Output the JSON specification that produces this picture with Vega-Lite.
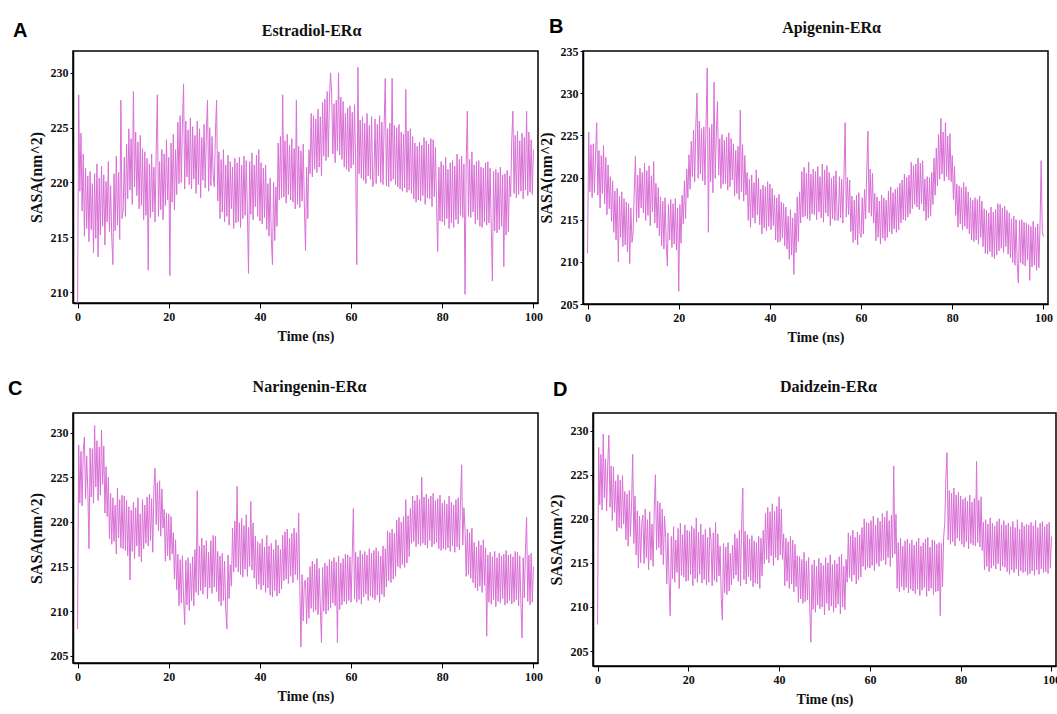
{
"$schema":"https://vega.github.io/schema/vega-lite/v6.json",
"background":"white",
"padding":{"left":7,"top":16,"right":0,"bottom":0},
"datasets":{"s":[
{"t":0,"a":208.5,"b":211.0,"c":208.0,"d":208.0},
{"t":0.25,"a":228.0,"b":225.4,"c":228.6,"d":228.1},
{"t":0.5,"a":219.2,"b":218.3,"c":222.1,"d":221.6},
{"t":0.75,"a":224.5,"b":223.9,"c":227.9,"d":227.3},
{"t":1,"a":217.4,"b":217.6,"c":221.8,"d":221.0},
{"t":1.25,"a":222.6,"b":224.0,"c":228.0,"d":229.6},
{"t":1.5,"a":215.1,"b":218.2,"c":229.5,"d":222.4},
{"t":1.75,"a":221.3,"b":222.7,"c":222.6,"d":226.8},
{"t":2,"a":215.8,"b":226.5,"c":227.4,"d":220.9},
{"t":2.25,"a":220.6,"b":217.9,"c":223.5,"d":226.2},
{"t":2.5,"a":214.6,"b":223.2,"c":217.0,"d":229.5},
{"t":2.75,"a":221.0,"b":216.4,"c":228.3,"d":221.3},
{"t":3,"a":215.7,"b":222.6,"c":222.8,"d":226.0},
{"t":3.25,"a":219.9,"b":218.1,"c":228.2,"d":219.8},
{"t":3.5,"a":213.6,"b":223.8,"c":222.1,"d":225.9},
{"t":3.75,"a":220.8,"b":216.9,"c":230.8,"d":220.7},
{"t":4,"a":214.9,"b":222.4,"c":223.9,"d":224.3},
{"t":4.25,"a":221.7,"b":215.6,"c":229.1,"d":218.6},
{"t":4.5,"a":213.2,"b":221.5,"c":222.4,"d":225.0},
{"t":4.75,"a":220.4,"b":216.3,"c":228.4,"d":219.0},
{"t":5,"a":215.2,"b":220.1,"c":223.0,"d":224.4},
{"t":5.25,"a":221.5,"b":214.8,"c":230.3,"d":218.9},
{"t":5.5,"a":216.0,"b":219.6,"c":224.2,"d":224.9},
{"t":5.75,"a":220.7,"b":213.5,"c":228.5,"d":219.4},
{"t":6,"a":214.3,"b":218.4,"c":221.0,"d":223.1},
{"t":6.25,"a":220.1,"b":212.6,"c":226.2,"d":217.6},
{"t":6.5,"a":216.4,"b":218.7,"c":220.6,"d":222.8},
{"t":6.75,"a":221.9,"b":210.0,"c":225.0,"d":216.9},
{"t":7,"a":215.5,"b":217.8,"c":218.1,"d":223.2},
{"t":7.25,"a":219.7,"b":212.9,"c":223.2,"d":218.0},
{"t":7.5,"a":215.0,"b":218.3,"c":217.5,"d":221.8},
{"t":7.75,"a":212.5,"b":211.8,"c":222.7,"d":227.3},
{"t":8,"a":220.8,"b":217.5,"c":217.8,"d":217.2},
{"t":8.25,"a":215.6,"b":212.0,"c":221.9,"d":222.6},
{"t":8.5,"a":222.4,"b":217.1,"c":216.4,"d":215.9},
{"t":8.75,"a":216.1,"b":211.2,"c":223.8,"d":220.9},
{"t":9,"a":220.9,"b":216.9,"c":218.2,"d":214.4},
{"t":9.25,"a":214.8,"b":209.8,"c":222.5,"d":220.3},
{"t":9.5,"a":227.5,"b":216.4,"c":217.1,"d":215.0},
{"t":9.75,"a":216.7,"b":212.3,"c":223.0,"d":219.6},
{"t":10,"a":217.4,"b":213.6,"c":217.0,"d":220.4},
{"t":10.25,"a":222.3,"b":218.4,"c":222.9,"d":214.9},
{"t":10.5,"a":216.9,"b":222.5,"c":216.8,"d":221.1},
{"t":10.75,"a":223.5,"b":214.7,"c":222.4,"d":215.6},
{"t":11,"a":218.5,"b":220.3,"c":216.2,"d":219.9},
{"t":11.25,"a":224.9,"b":215.2,"c":221.7,"d":214.2},
{"t":11.5,"a":219.3,"b":221.1,"c":213.5,"d":220.8},
{"t":11.75,"a":224.0,"b":216.4,"c":221.3,"d":215.3},
{"t":12,"a":218.0,"b":220.6,"c":216.7,"d":219.4},
{"t":12.25,"a":228.3,"b":215.8,"c":222.2,"d":214.6},
{"t":12.5,"a":219.6,"b":221.7,"c":215.9,"d":221.2},
{"t":12.75,"a":224.6,"b":214.9,"c":221.6,"d":225.0},
{"t":13,"a":218.8,"b":220.8,"c":217.3,"d":216.5},
{"t":13.25,"a":223.7,"b":215.5,"c":222.7,"d":222.0},
{"t":13.5,"a":217.6,"b":221.4,"c":216.1,"d":216.7},
{"t":13.75,"a":224.3,"b":214.3,"c":220.9,"d":221.8},
{"t":14,"a":217.9,"b":220.2,"c":215.5,"d":215.9},
{"t":14.25,"a":223.1,"b":215.9,"c":222.5,"d":221.1},
{"t":14.5,"a":216.6,"b":221.9,"c":217.0,"d":214.8},
{"t":14.75,"a":222.8,"b":214.6,"c":221.9,"d":220.3},
{"t":15,"a":217.0,"b":219.3,"c":217.6,"d":217.9},
{"t":15.25,"a":222.2,"b":214.0,"c":222.8,"d":212.6},
{"t":15.5,"a":212.0,"b":218.8,"c":217.3,"d":218.4},
{"t":15.75,"a":221.7,"b":213.1,"c":223.1,"d":213.0},
{"t":16,"a":216.8,"b":217.7,"c":217.9,"d":209.0},
{"t":16.25,"a":222.6,"b":211.9,"c":222.6,"d":218.0},
{"t":16.5,"a":217.3,"b":217.2,"c":216.6,"d":213.2},
{"t":16.75,"a":221.4,"b":211.5,"c":223.8,"d":219.1},
{"t":17,"a":216.4,"b":217.6,"c":226.0,"d":212.8},
{"t":17.25,"a":222.9,"b":212.3,"c":219.7,"d":217.6},
{"t":17.5,"a":228.0,"b":209.5,"c":224.4,"d":213.9},
{"t":17.75,"a":216.9,"b":216.8,"c":219.0,"d":218.9},
{"t":18,"a":221.9,"b":212.6,"c":224.6,"d":212.1},
{"t":18.25,"a":217.5,"b":217.4,"c":218.4,"d":219.5},
{"t":18.5,"a":223.0,"b":211.7,"c":223.7,"d":213.6},
{"t":18.75,"a":216.6,"b":216.9,"c":219.3,"d":218.2},
{"t":19,"a":222.6,"b":212.1,"c":221.4,"d":213.4},
{"t":19.25,"a":217.9,"b":217.5,"c":215.6,"d":219.3},
{"t":19.5,"a":223.9,"b":211.4,"c":221.0,"d":212.9},
{"t":19.75,"a":218.4,"b":216.4,"c":216.2,"d":218.7},
{"t":20,"a":222.3,"b":206.5,"c":220.9,"d":213.0},
{"t":20.25,"a":211.5,"b":216.8,"c":215.7,"d":218.6},
{"t":20.5,"a":223.6,"b":212.2,"c":220.6,"d":213.7},
{"t":20.75,"a":218.2,"b":217.9,"c":216.4,"d":219.2},
{"t":21,"a":224.4,"b":214.5,"c":218.8,"d":212.4},
{"t":21.25,"a":217.5,"b":219.6,"c":213.6,"d":218.9},
{"t":21.5,"a":223.0,"b":215.1,"c":218.0,"d":213.2},
{"t":21.75,"a":218.9,"b":221.0,"c":212.4,"d":220.1},
{"t":22,"a":225.5,"b":217.6,"c":216.4,"d":212.8},
{"t":22.25,"a":219.9,"b":222.7,"c":210.6,"d":218.5},
{"t":22.5,"a":226.1,"b":218.6,"c":215.8,"d":213.7},
{"t":22.75,"a":220.0,"b":224.3,"c":210.9,"d":219.4},
{"t":23,"a":225.2,"b":220.1,"c":216.2,"d":212.7},
{"t":23.25,"a":229.0,"b":225.6,"c":211.6,"d":218.2},
{"t":23.5,"a":219.4,"b":219.5,"c":208.5,"d":213.1},
{"t":23.75,"a":225.6,"b":226.2,"c":215.7,"d":218.8},
{"t":24,"a":220.5,"b":230.0,"c":210.7,"d":212.5},
{"t":24.25,"a":224.8,"b":219.9,"c":216.0,"d":217.9},
{"t":24.5,"a":219.8,"b":226.7,"c":210.1,"d":212.8},
{"t":24.75,"a":225.9,"b":220.4,"c":215.4,"d":219.0},
{"t":25,"a":219.4,"b":225.8,"c":211.2,"d":217.6},
{"t":25.25,"a":225.1,"b":219.6,"c":216.1,"d":212.4},
{"t":25.5,"a":220.3,"b":226.0,"c":210.6,"d":218.4},
{"t":25.75,"a":224.3,"b":219.1,"c":216.9,"d":213.0},
{"t":26,"a":219.0,"b":226.8,"c":212.1,"d":219.6},
{"t":26.25,"a":225.6,"b":233.0,"c":223.5,"d":212.8},
{"t":26.5,"a":219.8,"b":213.5,"c":211.8,"d":218.3},
{"t":26.75,"a":224.9,"b":225.9,"c":217.3,"d":213.5},
{"t":27,"a":218.6,"b":219.5,"c":212.3,"d":216.9},
{"t":27.25,"a":224.1,"b":226.3,"c":218.2,"d":211.0},
{"t":27.5,"a":220.2,"b":218.2,"c":211.9,"d":208.5},
{"t":27.75,"a":225.3,"b":231.3,"c":217.4,"d":217.2},
{"t":28,"a":219.5,"b":219.9,"c":212.7,"d":211.6},
{"t":28.25,"a":224.6,"b":225.4,"c":217.9,"d":216.8},
{"t":28.5,"a":227.5,"b":229.0,"c":211.4,"d":211.4},
{"t":28.75,"a":219.2,"b":220.3,"c":216.6,"d":217.3},
{"t":29,"a":225.0,"b":224.6,"c":212.6,"d":211.8},
{"t":29.25,"a":219.7,"b":218.7,"c":217.9,"d":216.1},
{"t":29.5,"a":224.2,"b":225.1,"c":212.0,"d":212.5},
{"t":29.75,"a":220.6,"b":219.2,"c":218.5,"d":217.0},
{"t":30,"a":219.6,"b":224.4,"c":212.7,"d":213.2},
{"t":30.25,"a":224.7,"b":219.3,"c":218.4,"d":218.3},
{"t":30.5,"a":227.5,"b":224.8,"c":212.2,"d":213.6},
{"t":30.75,"a":218.3,"b":218.5,"c":216.7,"d":217.8},
{"t":31,"a":222.8,"b":225.3,"c":211.1,"d":212.9},
{"t":31.25,"a":216.7,"b":218.9,"c":216.2,"d":218.7},
{"t":31.5,"a":222.1,"b":224.6,"c":210.6,"d":212.4},
{"t":31.75,"a":217.3,"b":219.7,"c":216.5,"d":219.5},
{"t":32,"a":223.0,"b":224.0,"c":211.2,"d":223.5},
{"t":32.25,"a":216.4,"b":217.8,"c":215.6,"d":213.1},
{"t":32.5,"a":221.6,"b":223.2,"c":210.3,"d":218.6},
{"t":32.75,"a":216.9,"b":218.1,"c":208.0,"d":212.6},
{"t":33,"a":222.5,"b":223.7,"c":216.3,"d":218.2},
{"t":33.25,"a":216.1,"b":217.4,"c":211.4,"d":213.4},
{"t":33.5,"a":221.9,"b":228.0,"c":215.2,"d":217.7},
{"t":33.75,"a":217.6,"b":218.3,"c":212.8,"d":213.0},
{"t":34,"a":221.4,"b":223.9,"c":219.3,"d":218.1},
{"t":34.25,"a":215.8,"b":217.2,"c":214.4,"d":212.3},
{"t":34.5,"a":222.2,"b":222.6,"c":220.1,"d":217.5},
{"t":34.75,"a":216.3,"b":217.9,"c":214.9,"d":212.7},
{"t":35,"a":221.8,"b":220.6,"c":224.0,"d":217.3},
{"t":35.25,"a":216.4,"b":214.9,"c":214.4,"d":212.6},
{"t":35.5,"a":222.3,"b":219.8,"c":219.9,"d":218.0},
{"t":35.75,"a":215.9,"b":214.1,"c":214.1,"d":212.1},
{"t":36,"a":221.6,"b":220.3,"c":220.4,"d":217.8},
{"t":36.25,"a":216.7,"b":215.2,"c":213.8,"d":213.5},
{"t":36.5,"a":222.4,"b":219.4,"c":219.6,"d":218.7},
{"t":36.75,"a":217.0,"b":214.6,"c":214.7,"d":214.9},
{"t":37,"a":222.0,"b":220.9,"c":220.8,"d":220.6},
{"t":37.25,"a":217.4,"b":215.6,"c":213.9,"d":215.4},
{"t":37.5,"a":211.7,"b":219.9,"c":219.4,"d":221.3},
{"t":37.75,"a":221.9,"b":214.4,"c":215.0,"d":215.0},
{"t":38,"a":217.1,"b":218.6,"c":222.3,"d":220.8},
{"t":38.25,"a":222.7,"b":213.3,"c":214.6,"d":215.8},
{"t":38.5,"a":216.6,"b":219.1,"c":219.9,"d":221.7},
{"t":38.75,"a":221.6,"b":214.0,"c":213.7,"d":214.7},
{"t":39,"a":217.8,"b":218.9,"c":218.4,"d":220.9},
{"t":39.25,"a":222.5,"b":213.7,"c":212.5,"d":215.6},
{"t":39.5,"a":216.9,"b":219.5,"c":217.8,"d":221.4},
{"t":39.75,"a":223.0,"b":214.2,"c":213.0,"d":215.3},
{"t":40,"a":216.5,"b":219.2,"c":217.6,"d":222.5},
{"t":40.25,"a":221.8,"b":213.8,"c":212.4,"d":215.9},
{"t":40.5,"a":216.2,"b":218.7,"c":218.1,"d":221.1},
{"t":40.75,"a":221.3,"b":214.3,"c":212.9,"d":215.4},
{"t":41,"a":216.8,"b":217.9,"c":217.2,"d":218.3},
{"t":41.25,"a":221.6,"b":212.6,"c":212.1,"d":212.4},
{"t":41.5,"a":215.7,"b":217.6,"c":218.5,"d":217.8},
{"t":41.75,"a":219.9,"b":212.3,"c":212.6,"d":212.9},
{"t":42,"a":215.1,"b":218.0,"c":217.3,"d":217.4},
{"t":42.25,"a":220.4,"b":212.4,"c":211.8,"d":212.1},
{"t":42.5,"a":214.9,"b":217.1,"c":217.6,"d":218.0},
{"t":42.75,"a":212.5,"b":212.8,"c":211.6,"d":212.6},
{"t":43,"a":220.0,"b":216.9,"c":216.9,"d":217.6},
{"t":43.25,"a":214.7,"b":211.9,"c":212.3,"d":211.7},
{"t":43.5,"a":219.6,"b":216.5,"c":218.0,"d":217.1},
{"t":43.75,"a":216.0,"b":211.5,"c":211.7,"d":212.3},
{"t":44,"a":223.6,"b":215.4,"c":217.4,"d":215.8},
{"t":44.25,"a":218.4,"b":210.3,"c":212.0,"d":210.5},
{"t":44.5,"a":224.2,"b":216.2,"c":216.9,"d":215.7},
{"t":44.75,"a":218.6,"b":210.8,"c":212.5,"d":210.9},
{"t":45,"a":228.0,"b":215.2,"c":218.5,"d":215.4},
{"t":45.25,"a":218.7,"b":208.5,"c":213.4,"d":210.4},
{"t":45.5,"a":223.8,"b":215.8,"c":218.9,"d":216.2},
{"t":45.75,"a":218.1,"b":211.1,"c":213.6,"d":210.6},
{"t":46,"a":224.4,"b":217.7,"c":219.2,"d":215.2},
{"t":46.25,"a":218.9,"b":212.4,"c":213.1,"d":210.8},
{"t":46.5,"a":223.4,"b":218.3,"c":218.2,"d":215.6},
{"t":46.75,"a":218.4,"b":214.6,"c":213.9,"d":209.9},
{"t":47,"a":224.0,"b":220.7,"c":218.7,"d":206.0},
{"t":47.25,"a":218.2,"b":215.3,"c":213.2,"d":214.8},
{"t":47.5,"a":223.1,"b":221.2,"c":219.3,"d":209.7},
{"t":47.75,"a":217.6,"b":215.4,"c":214.1,"d":215.3},
{"t":48,"a":227.5,"b":220.5,"c":218.8,"d":209.4},
{"t":48.25,"a":218.0,"b":215.1,"c":213.5,"d":214.6},
{"t":48.5,"a":223.3,"b":221.8,"c":221.0,"d":210.2},
{"t":48.75,"a":217.7,"b":214.9,"c":212.8,"d":215.5},
{"t":49,"a":222.9,"b":220.4,"c":206.0,"d":209.8},
{"t":49.25,"a":218.3,"b":215.7,"c":214.1,"d":215.0},
{"t":49.5,"a":223.5,"b":221.0,"c":208.9,"d":210.0},
{"t":49.75,"a":217.9,"b":215.6,"c":213.3,"d":214.7},
{"t":50,"a":213.8,"b":220.7,"c":213.5,"d":209.1},
{"t":50.25,"a":221.4,"b":215.0,"c":208.6,"d":215.6},
{"t":50.5,"a":216.7,"b":221.3,"c":213.8,"d":210.4},
{"t":50.75,"a":223.0,"b":215.9,"c":209.2,"d":215.0},
{"t":51,"a":220.8,"b":220.1,"c":215.0,"d":209.6},
{"t":51.25,"a":226.3,"b":215.2,"c":210.3,"d":215.9},
{"t":51.5,"a":220.5,"b":221.6,"c":215.6,"d":210.1},
{"t":51.75,"a":226.1,"b":214.7,"c":209.9,"d":214.8},
{"t":52,"a":221.2,"b":220.9,"c":215.3,"d":209.4},
{"t":52.25,"a":225.8,"b":215.8,"c":210.1,"d":215.3},
{"t":52.5,"a":220.9,"b":221.4,"c":215.9,"d":209.9},
{"t":52.75,"a":226.7,"b":215.4,"c":209.6,"d":214.9},
{"t":53,"a":221.4,"b":220.6,"c":214.8,"d":210.3},
{"t":53.25,"a":226.0,"b":214.3,"c":210.4,"d":215.7},
{"t":53.5,"a":220.6,"b":219.9,"c":206.5,"d":209.2},
{"t":53.75,"a":227.3,"b":215.1,"c":214.9,"d":216.0},
{"t":54,"a":222.4,"b":220.2,"c":210.0,"d":210.0},
{"t":54.25,"a":227.6,"b":214.9,"c":215.4,"d":214.6},
{"t":54.5,"a":222.0,"b":220.8,"c":209.7,"d":209.7},
{"t":54.75,"a":228.3,"b":215.0,"c":215.1,"d":215.4},
{"t":55,"a":222.3,"b":214.9,"c":210.1,"d":212.8},
{"t":55.25,"a":227.7,"b":220.1,"c":215.8,"d":218.4},
{"t":55.5,"a":230.0,"b":215.2,"c":210.4,"d":213.3},
{"t":55.75,"a":227.9,"b":219.8,"c":215.6,"d":218.1},
{"t":56,"a":222.6,"b":214.6,"c":210.9,"d":212.9},
{"t":56.25,"a":227.2,"b":220.3,"c":216.0,"d":218.7},
{"t":56.5,"a":221.8,"b":226.5,"c":210.6,"d":213.6},
{"t":56.75,"a":227.5,"b":215.3,"c":215.5,"d":217.9},
{"t":57,"a":222.9,"b":220.0,"c":206.5,"d":212.6},
{"t":57.25,"a":230.0,"b":215.6,"c":216.2,"d":218.5},
{"t":57.5,"a":222.5,"b":219.7,"c":210.2,"d":213.1},
{"t":57.75,"a":227.8,"b":213.6,"c":215.4,"d":218.2},
{"t":58,"a":222.1,"b":217.8,"c":210.7,"d":213.4},
{"t":58.25,"a":227.4,"b":212.3,"c":215.9,"d":219.0},
{"t":58.5,"a":221.4,"b":217.3,"c":211.1,"d":214.6},
{"t":58.75,"a":226.3,"b":212.6,"c":216.4,"d":220.0},
{"t":59,"a":221.2,"b":217.9,"c":210.8,"d":214.2},
{"t":59.25,"a":226.8,"b":212.0,"c":216.3,"d":219.6},
{"t":59.5,"a":221.0,"b":218.2,"c":211.2,"d":214.5},
{"t":59.75,"a":227.0,"b":213.4,"c":216.1,"d":219.5},
{"t":60,"a":221.3,"b":212.9,"c":211.0,"d":214.4},
{"t":60.25,"a":226.4,"b":217.6,"c":216.2,"d":219.8},
{"t":60.5,"a":221.6,"b":213.3,"c":221.5,"d":214.7},
{"t":60.75,"a":227.1,"b":218.6,"c":211.4,"d":220.3},
{"t":61,"a":221.9,"b":215.1,"c":216.6,"d":214.1},
{"t":61.25,"a":212.5,"b":220.9,"c":211.0,"d":219.3},
{"t":61.5,"a":230.5,"b":225.5,"c":216.1,"d":214.9},
{"t":61.75,"a":220.8,"b":215.8,"c":211.3,"d":220.1},
{"t":62,"a":225.7,"b":221.0,"c":216.8,"d":214.6},
{"t":62.25,"a":220.4,"b":215.4,"c":210.8,"d":219.7},
{"t":62.5,"a":226.0,"b":220.5,"c":216.4,"d":215.2},
{"t":62.75,"a":220.2,"b":214.6,"c":211.6,"d":220.6},
{"t":63,"a":225.4,"b":218.1,"c":216.7,"d":215.3},
{"t":63.25,"a":219.9,"b":212.5,"c":211.9,"d":220.2},
{"t":63.5,"a":226.3,"b":217.7,"c":216.3,"d":214.8},
{"t":63.75,"a":220.6,"b":212.9,"c":211.2,"d":220.9},
{"t":64,"a":225.2,"b":217.2,"c":217.0,"d":215.6},
{"t":64.25,"a":220.3,"b":212.1,"c":211.7,"d":219.8},
{"t":64.5,"a":226.0,"b":217.9,"c":216.5,"d":214.6},
{"t":64.75,"a":219.6,"b":212.8,"c":211.5,"d":220.4},
{"t":65,"a":220.1,"b":217.6,"c":216.8,"d":215.6},
{"t":65.25,"a":225.8,"b":212.5,"c":211.3,"d":226.0},
{"t":65.5,"a":219.9,"b":217.3,"c":217.1,"d":216.0},
{"t":65.75,"a":225.3,"b":212.9,"c":211.8,"d":220.5},
{"t":66,"a":220.6,"b":218.4,"c":216.7,"d":212.1},
{"t":66.25,"a":226.1,"b":213.6,"c":211.0,"d":217.3},
{"t":66.5,"a":220.0,"b":218.9,"c":216.2,"d":211.7},
{"t":66.75,"a":225.5,"b":213.3,"c":211.9,"d":217.8},
{"t":67,"a":219.8,"b":218.2,"c":217.3,"d":212.3},
{"t":67.25,"a":225.2,"b":213.9,"c":211.6,"d":216.9},
{"t":67.5,"a":229.5,"b":218.6,"c":217.0,"d":211.9},
{"t":67.75,"a":219.7,"b":213.5,"c":212.7,"d":217.5},
{"t":68,"a":224.9,"b":218.8,"c":219.0,"d":212.2},
{"t":68.25,"a":219.6,"b":213.8,"c":213.4,"d":217.7},
{"t":68.5,"a":225.4,"b":219.3,"c":218.8,"d":211.6},
{"t":68.75,"a":220.1,"b":214.6,"c":213.2,"d":217.2},
{"t":69,"a":229.5,"b":219.7,"c":219.2,"d":212.0},
{"t":69.25,"a":220.3,"b":215.0,"c":213.6,"d":217.6},
{"t":69.5,"a":225.2,"b":220.4,"c":218.7,"d":211.8},
{"t":69.75,"a":219.8,"b":214.9,"c":213.9,"d":217.0},
{"t":70,"a":225.0,"b":220.0,"c":220.2,"d":211.5},
{"t":70.25,"a":219.6,"b":215.3,"c":215.0,"d":217.4},
{"t":70.5,"a":225.3,"b":220.3,"c":220.5,"d":212.0},
{"t":70.75,"a":219.4,"b":215.7,"c":214.8,"d":217.8},
{"t":71,"a":224.6,"b":221.8,"c":220.0,"d":211.3},
{"t":71.25,"a":219.2,"b":216.3,"c":215.2,"d":216.9},
{"t":71.5,"a":224.4,"b":221.4,"c":220.6,"d":211.9},
{"t":71.75,"a":219.5,"b":216.8,"c":214.9,"d":217.3},
{"t":72,"a":228.5,"b":221.6,"c":222.5,"d":212.2},
{"t":72.25,"a":219.1,"b":216.5,"c":215.4,"d":217.7},
{"t":72.5,"a":224.7,"b":222.3,"c":220.7,"d":211.2},
{"t":72.75,"a":219.3,"b":216.2,"c":216.1,"d":217.9},
{"t":73,"a":224.9,"b":221.7,"c":221.5,"d":211.8},
{"t":73.25,"a":219.0,"b":216.9,"c":217.6,"d":216.8},
{"t":73.5,"a":224.2,"b":222.0,"c":222.9,"d":212.1},
{"t":73.75,"a":218.5,"b":216.0,"c":217.8,"d":217.6},
{"t":74,"a":223.6,"b":219.8,"c":222.4,"d":211.4},
{"t":74.25,"a":218.2,"b":214.9,"c":217.2,"d":217.5},
{"t":74.5,"a":223.3,"b":220.1,"c":223.0,"d":211.7},
{"t":74.75,"a":218.4,"b":215.2,"c":217.5,"d":217.1},
{"t":75,"a":223.7,"b":220.0,"c":222.5,"d":211.8},
{"t":75.25,"a":218.3,"b":215.4,"c":217.3,"d":217.3},
{"t":75.5,"a":223.4,"b":220.6,"c":225.0,"d":209.0},
{"t":75.75,"a":218.8,"b":216.8,"c":217.6,"d":217.2},
{"t":76,"a":224.1,"b":222.3,"c":222.8,"d":212.3},
{"t":76.25,"a":218.0,"b":217.9,"c":217.4,"d":217.9},
{"t":76.5,"a":223.8,"b":223.5,"c":223.1,"d":219.6},
{"t":76.75,"a":218.6,"b":219.0,"c":217.1,"d":224.8},
{"t":77,"a":223.5,"b":225.1,"c":222.6,"d":227.5},
{"t":77.25,"a":218.5,"b":219.8,"c":217.9,"d":217.6},
{"t":77.5,"a":224.0,"b":227.0,"c":222.9,"d":223.2},
{"t":77.75,"a":217.8,"b":220.4,"c":217.2,"d":217.1},
{"t":78,"a":223.9,"b":225.4,"c":223.2,"d":222.9},
{"t":78.25,"a":218.7,"b":219.6,"c":217.5,"d":217.4},
{"t":78.5,"a":223.2,"b":226.5,"c":222.4,"d":223.5},
{"t":78.75,"a":218.1,"b":220.1,"c":217.7,"d":216.9},
{"t":79,"a":213.7,"b":224.9,"c":222.6,"d":222.7},
{"t":79.25,"a":221.4,"b":219.7,"c":217.0,"d":217.8},
{"t":79.5,"a":216.5,"b":225.2,"c":223.0,"d":223.0},
{"t":79.75,"a":221.9,"b":219.5,"c":216.8,"d":217.5},
{"t":80,"a":216.4,"b":222.6,"c":222.1,"d":222.6},
{"t":80.25,"a":221.6,"b":217.4,"c":217.0,"d":217.1},
{"t":80.5,"a":216.1,"b":221.3,"c":222.4,"d":222.2},
{"t":80.75,"a":222.3,"b":215.5,"c":216.9,"d":216.8},
{"t":81,"a":216.7,"b":219.2,"c":222.0,"d":222.4},
{"t":81.25,"a":221.2,"b":214.1,"c":217.1,"d":217.4},
{"t":81.5,"a":215.8,"b":219.0,"c":222.9,"d":222.0},
{"t":81.75,"a":221.8,"b":214.5,"c":216.7,"d":216.6},
{"t":82,"a":216.3,"b":218.8,"c":222.2,"d":222.7},
{"t":82.25,"a":222.0,"b":213.8,"c":217.3,"d":217.2},
{"t":82.5,"a":215.9,"b":219.4,"c":221.9,"d":221.9},
{"t":82.75,"a":221.5,"b":214.2,"c":216.6,"d":217.0},
{"t":83,"a":216.6,"b":218.9,"c":222.5,"d":222.3},
{"t":83.25,"a":222.6,"b":213.9,"c":217.2,"d":216.9},
{"t":83.5,"a":216.2,"b":218.3,"c":222.7,"d":226.5},
{"t":83.75,"a":222.1,"b":213.3,"c":216.9,"d":217.3},
{"t":84,"a":217.0,"b":217.6,"c":222.3,"d":222.1},
{"t":84.25,"a":222.4,"b":212.6,"c":226.4,"d":216.8},
{"t":84.5,"a":216.8,"b":217.3,"c":217.4,"d":222.5},
{"t":84.75,"a":221.7,"b":212.4,"c":221.6,"d":216.4},
{"t":85,"a":209.8,"b":217.6,"c":219.1,"d":219.6},
{"t":85.25,"a":221.9,"b":212.6,"c":213.9,"d":214.2},
{"t":85.5,"a":226.5,"b":217.4,"c":219.2,"d":219.9},
{"t":85.75,"a":216.9,"b":212.1,"c":214.1,"d":214.6},
{"t":86,"a":222.1,"b":217.8,"c":218.8,"d":219.4},
{"t":86.25,"a":216.8,"b":212.9,"c":213.7,"d":214.0},
{"t":86.5,"a":222.8,"b":217.2,"c":219.3,"d":220.1},
{"t":86.75,"a":217.3,"b":211.8,"c":213.2,"d":214.4},
{"t":87,"a":221.6,"b":216.3,"c":217.7,"d":219.5},
{"t":87.25,"a":216.2,"b":211.0,"c":212.6,"d":214.7},
{"t":87.5,"a":221.9,"b":216.1,"c":217.2,"d":219.2},
{"t":87.75,"a":216.6,"b":210.9,"c":212.3,"d":214.3},
{"t":88,"a":222.0,"b":215.8,"c":217.9,"d":219.7},
{"t":88.25,"a":216.0,"b":211.2,"c":212.8,"d":214.9},
{"t":88.5,"a":221.4,"b":216.5,"c":217.4,"d":220.0},
{"t":88.75,"a":215.9,"b":210.6,"c":212.1,"d":214.1},
{"t":89,"a":221.3,"b":215.9,"c":218.0,"d":219.3},
{"t":89.25,"a":216.4,"b":210.4,"c":212.9,"d":214.6},
{"t":89.5,"a":221.8,"b":216.2,"c":217.1,"d":219.8},
{"t":89.75,"a":216.1,"b":210.8,"c":207.2,"d":214.5},
{"t":90,"a":221.9,"b":216.9,"c":216.3,"d":219.3},
{"t":90.25,"a":216.3,"b":211.3,"c":211.0,"d":214.0},
{"t":90.5,"a":221.3,"b":216.8,"c":216.6,"d":219.5},
{"t":90.75,"a":215.8,"b":211.6,"c":210.8,"d":213.7},
{"t":91,"a":211.0,"b":216.4,"c":216.1,"d":219.1},
{"t":91.25,"a":221.0,"b":211.1,"c":211.3,"d":214.2},
{"t":91.5,"a":215.6,"b":216.6,"c":216.7,"d":219.7},
{"t":91.75,"a":221.2,"b":211.8,"c":210.5,"d":213.9},
{"t":92,"a":215.4,"b":216.1,"c":216.0,"d":219.0},
{"t":92.25,"a":220.9,"b":210.9,"c":211.1,"d":214.3},
{"t":92.5,"a":215.7,"b":215.8,"c":216.5,"d":219.9},
{"t":92.75,"a":221.4,"b":210.5,"c":210.9,"d":213.5},
{"t":93,"a":216.0,"b":215.1,"c":216.2,"d":218.8},
{"t":93.25,"a":220.7,"b":209.9,"c":211.4,"d":214.1},
{"t":93.5,"a":212.3,"b":215.4,"c":216.4,"d":219.6},
{"t":93.75,"a":220.8,"b":209.6,"c":210.7,"d":213.9},
{"t":94,"a":215.2,"b":215.0,"c":216.8,"d":219.2},
{"t":94.25,"a":221.1,"b":209.8,"c":210.9,"d":214.0},
{"t":94.5,"a":215.5,"b":207.5,"c":216.3,"d":219.4},
{"t":94.75,"a":220.6,"b":214.9,"c":211.2,"d":213.6},
{"t":95,"a":218.7,"b":209.9,"c":216.4,"d":219.3},
{"t":95.25,"a":224.0,"b":215.0,"c":210.8,"d":213.8},
{"t":95.5,"a":226.5,"b":209.7,"c":216.1,"d":219.6},
{"t":95.75,"a":219.0,"b":214.7,"c":211.0,"d":214.1},
{"t":96,"a":224.3,"b":209.5,"c":216.7,"d":219.2},
{"t":96.25,"a":218.6,"b":214.6,"c":211.3,"d":213.6},
{"t":96.5,"a":224.7,"b":210.2,"c":216.6,"d":219.8},
{"t":96.75,"a":218.9,"b":214.4,"c":210.6,"d":214.2},
{"t":97,"a":223.8,"b":207.8,"c":216.2,"d":219.0},
{"t":97.25,"a":219.2,"b":214.2,"c":210.9,"d":213.7},
{"t":97.5,"a":224.5,"b":209.4,"c":207.0,"d":219.5},
{"t":97.75,"a":218.5,"b":214.8,"c":216.0,"d":214.3},
{"t":98,"a":224.1,"b":209.6,"c":211.5,"d":219.7},
{"t":98.25,"a":219.3,"b":214.1,"c":216.9,"d":213.9},
{"t":98.5,"a":226.5,"b":209.0,"c":220.5,"d":219.1},
{"t":98.75,"a":218.8,"b":214.5,"c":211.1,"d":214.0},
{"t":99,"a":224.6,"b":209.3,"c":216.3,"d":219.4},
{"t":99.25,"a":219.1,"b":214.3,"c":210.7,"d":213.8},
{"t":99.5,"a":223.9,"b":222.0,"c":216.5,"d":219.6},
{"t":99.75,"a":218.9,"b":213.6,"c":211.0,"d":214.4},
{"t":100,"a":223.0,"b":213.0,"c":215.0,"d":218.0}
]},
"data":{"name":"s"},
"spacing":32,
"vconcat":[
 {"hconcat":[
  {"width":465,"height":252,
   "title":{"text":"A","anchor":"start","frame":"group","baseline":"bottom","font":"Liberation Sans","fontSize":20,"fontWeight":"bold","color":"black","dx":-60,"dy":39,"offset":0},
   "layer":[
    {"mark":{"type":"line","color":"#DA70D6","strokeWidth":1,"clip":true},
     "encoding":{
      "x":{"field":"t","type":"quantitative","scale":{"domain":[-1,101],"nice":false,"zero":false},"axis":{"values":[0,20,40,60,80,100],"title":"Time (ns)"}},
      "y":{"field":"a","type":"quantitative","scale":{"domain":[209,232],"nice":false,"zero":false},"axis":{"values":[210,215,220,225,230],"title":"SASA(nm^2)"}}}},
    {"mark":{"type":"line","opacity":0},
     "encoding":{"x":{"field":"t","type":"quantitative","axis":{"orient":"top","title":"Estradiol-ERα","labels":false,"ticks":false,"domain":false,"tickSize":0,"labelPadding":0,"titlePadding":13,"titleFontSize":16,"titleX":238}}}}
   ],
   "resolve":{"axis":{"x":"independent"}}
  },
  {"width":465,"height":253,
   "title":{"text":"B","anchor":"start","frame":"group","baseline":"bottom","font":"Liberation Sans","fontSize":20,"fontWeight":"bold","color":"black","dx":-34,"dy":38,"offset":0},
   "layer":[
    {"mark":{"type":"line","color":"#DA70D6","strokeWidth":1,"clip":true},
     "encoding":{
      "x":{"field":"t","type":"quantitative","scale":{"domain":[-1,101],"nice":false,"zero":false},"axis":{"values":[0,20,40,60,80,100],"title":"Time (ns)"}},
      "y":{"field":"b","type":"quantitative","scale":{"domain":[205,235],"nice":false,"zero":false},"axis":{"values":[205,210,215,220,225,230,235],"title":"SASA(nm^2)"}}}},
    {"mark":{"type":"line","opacity":0},
     "encoding":{"x":{"field":"t","type":"quantitative","axis":{"orient":"top","title":"Apigenin-ERα","labels":false,"ticks":false,"domain":false,"tickSize":0,"labelPadding":0,"titlePadding":16,"titleFontSize":16,"titleX":248}}}}
   ],
   "resolve":{"axis":{"x":"independent"}}
  }
 ],"spacing":45,"bounds":"flush"},
 {"hconcat":[
  {"width":465,"height":250,
   "title":{"text":"C","anchor":"start","frame":"group","baseline":"bottom","font":"Liberation Sans","fontSize":20,"fontWeight":"bold","color":"black","dx":-65,"dy":41,"offset":0},
   "layer":[
    {"mark":{"type":"line","color":"#DA70D6","strokeWidth":1,"clip":true},
     "encoding":{
      "x":{"field":"t","type":"quantitative","scale":{"domain":[-1,101],"nice":false,"zero":false},"axis":{"values":[0,20,40,60,80,100],"title":"Time (ns)"}},
      "y":{"field":"c","type":"quantitative","scale":{"domain":[204.2,232.2],"nice":false,"zero":false},"axis":{"values":[205,210,215,220,225,230],"title":"SASA(nm^2)"}}}},
    {"mark":{"type":"line","opacity":0},
     "encoding":{"x":{"field":"t","type":"quantitative","axis":{"orient":"top","title":"Naringenin-ERα","labels":false,"ticks":false,"domain":false,"tickSize":0,"labelPadding":0,"titlePadding":19,"titleFontSize":16,"titleX":236}}}}
   ],
   "resolve":{"axis":{"x":"independent"}}
  },
  {"width":463,"height":253,
   "title":{"text":"D","anchor":"start","frame":"group","baseline":"bottom","font":"Liberation Sans","fontSize":20,"fontWeight":"bold","color":"black","dx":-40,"dy":42,"offset":0},
   "layer":[
    {"mark":{"type":"line","color":"#DA70D6","strokeWidth":1,"clip":true},
     "encoding":{
      "x":{"field":"t","type":"quantitative","scale":{"domain":[-1,101],"nice":false,"zero":false},"axis":{"values":[0,20,40,60,80,100],"title":"Time (ns)"}},
      "y":{"field":"d","type":"quantitative","scale":{"domain":[203.3,232],"nice":false,"zero":false},"axis":{"values":[205,210,215,220,225,230],"title":"SASA(nm^2)"}}}},
    {"mark":{"type":"line","opacity":0},
     "encoding":{"x":{"field":"t","type":"quantitative","axis":{"orient":"top","title":"Daidzein-ERα","labels":false,"ticks":false,"domain":false,"tickSize":0,"labelPadding":0,"titlePadding":19,"titleFontSize":16,"titleX":235}}}}
   ],
   "resolve":{"axis":{"x":"independent"}}
  }
 ],"spacing":55,"bounds":"flush"}
],
"config":{
 "view":{"stroke":"black","strokeWidth":1.5},
 "axis":{"labelFont":"Liberation Serif","labelFontWeight":"bold","labelFontSize":12,"labelColor":"#111","titleFont":"Liberation Serif","titleFontWeight":"bold","titleColor":"#111","domainColor":"black","domainWidth":1.5,"tickColor":"black","tickWidth":1,"grid":false},
 "axisX":{"tickSize":5,"labelPadding":3,"titlePadding":7,"titleFontSize":14},
 "axisY":{"tickSize":3,"labelPadding":2,"titlePadding":6,"titleFontSize":16},
 "title":{"font":"Liberation Serif","fontWeight":"bold","fontSize":15,"color":"#111"}
}
}
